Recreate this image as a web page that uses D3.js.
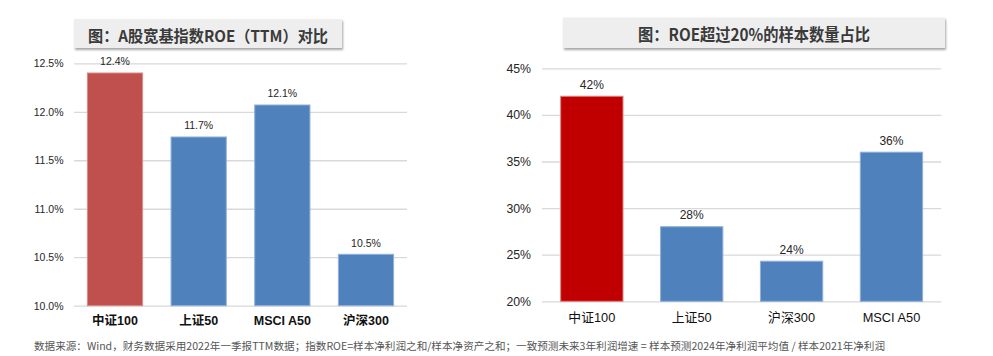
<!DOCTYPE html>
<html><head><meta charset="utf-8">
<script src="https://cdn.jsdelivr.net/npm/d3@7"></script>
<style>
html,body{margin:0;padding:0;background:#fff;}
svg{display:block;}
</style></head>
<body>
<svg id="c" width="993" height="356"></svg>
<script>
// ---- data ----
const leftTitle = "图：A股宽基指数ROE（TTM）对比";
const leftCats = ["中证100", "上证50", "MSCI A50", "沪深300"];
const leftVals = [12.40, 11.74, 12.07, 10.53];
const leftLabels = ["12.4%", "11.7%", "12.1%", "10.5%"];
const leftTicks = [10.0, 10.5, 11.0, 11.5, 12.0, 12.5];

const rightTitle = "图：ROE超过20%的样本数量占比";
const rightCats = ["中证100", "上证50", "沪深300", "MSCI A50"];
const rightVals = [42, 28, 24.3, 36];
const rightLabels = ["42%", "28%", "24%", "36%"];
const rightTicks = [20, 25, 30, 35, 40, 45];

const footnote = "数据来源：Wind，财务数据采用2022年一季报TTM数据；指数ROE=样本净利润之和/样本净资产之和；一致预测未来3年利润增速 = 样本预测2024年净利润平均值 / 样本2021年净利润";

// ---- drawing ----
const svg = d3.select("#c");
const defs = svg.append("defs");
const f = defs.append("filter").attr("id","sh").attr("x","-5%").attr("y","-20%").attr("width","115%").attr("height","160%");
f.append("feDropShadow").attr("dx",1).attr("dy",2).attr("stdDeviation",1.3).attr("flood-color","#000").attr("flood-opacity",0.35);

const CJK = "'Noto Sans CJK SC', 'Noto Sans', sans-serif";
const LAT = "'Liberation Sans', Arial, sans-serif";

function titleBox(x0, y0, w, h, text, fs, tl) {
  svg.append("rect").attr("x",x0).attr("y",y0).attr("width",w).attr("height",h)
    .attr("fill","#eeeeee").attr("filter","url(#sh)");
  svg.append("text").attr("x",x0+w/2).attr("y",y0+h/2+1)
    .attr("text-anchor","middle").attr("dominant-baseline","central")
    .attr("font-family",CJK).attr("font-weight","bold").attr("font-size",fs)
    .attr("fill","#3a3a3a").attr("textLength",tl).attr("lengthAdjust","spacingAndGlyphs")
    .text(text);
}

function chart(opt) {
  const x = d3.scaleBand().domain(opt.cats).range(opt.xr)
    .paddingInner(opt.pi).paddingOuter(opt.po);
  const y = d3.scaleLinear().domain(opt.dom).range(opt.yr);
  const g = svg.append("g");
  const ax = d3.axisLeft(y).tickValues(opt.ticks).tickFormat(opt.fmt)
    .tickSize(-(opt.xr[1]-opt.xr[0])).tickPadding(opt.tp);
  const ag = g.append("g").attr("transform",`translate(${opt.xr[0]},0)`).call(ax);
  ag.select(".domain").remove();
  ag.selectAll(".tick line").attr("stroke","#d9d9d9").attr("stroke-width",1.3);
  ag.selectAll(".tick text").attr("font-family",LAT).attr("font-size",opt.tfs).attr("fill","#262626");

  g.selectAll("rect.bar").data(opt.vals).join("rect").attr("class","bar")
    .attr("x",(d,i)=>x(opt.cats[i])).attr("width",x.bandwidth())
    .attr("y",d=>y(d)).attr("height",d=>y(opt.dom[0])-y(d))
    .attr("fill",(d,i)=>opt.colors[i])
    .attr("stroke",(d,i)=>opt.strokes[i]).attr("stroke-width",1);

  g.selectAll("text.val").data(opt.vals).join("text").attr("class","val")
    .attr("x",(d,i)=>x(opt.cats[i])+x.bandwidth()/2).attr("y",d=>y(d)-7.5)
    .attr("text-anchor","middle").attr("font-family",LAT).attr("font-size",opt.vfs)
    .attr("fill","#262626").text((d,i)=>opt.labels[i]);

  g.selectAll("text.cat").data(opt.cats).join("text").attr("class","cat")
    .attr("x",d=>x(d)+x.bandwidth()/2).attr("y",opt.cy)
    .attr("text-anchor","middle").attr("dominant-baseline","central")
    .attr("font-family",opt.cfont).attr("font-weight",opt.cw).attr("font-size",opt.cfs)
    .attr("fill","#111").text(d=>d);
}

titleBox(74, 19, 268, 29, leftTitle, 16, 240);
titleBox(563, 17.5, 382, 30.5, rightTitle, 16.5, 232);

chart({cats:leftCats, vals:leftVals, labels:leftLabels, ticks:leftTicks,
  xr:[74,407], pi:0.34, po:0.16, dom:[10,12.5], yr:[305.7,63.3],
  fmt:d=>d3.format(".1f")(d)+"%", tp:10.5, tfs:10.5, vfs:10.5,
  colors:["#C0504D","#4F81BD","#4F81BD","#4F81BD"],
  strokes:["#d98b89","#8eb0da","#8eb0da","#8eb0da"],
  cy:321, cfont:"'Liberation Sans', 'Noto Sans CJK SC', sans-serif", cw:"bold", cfs:12.5});

chart({cats:rightCats, vals:rightVals, labels:rightLabels, ticks:rightTicks,
  xr:[542,941.3], pi:0.376, po:0.187, dom:[20,45], yr:[301.3,68.3],
  fmt:d=>d+"%", tp:11, tfs:12.3, vfs:12,
  colors:["#C00000","#4F81BD","#4F81BD","#4F81BD"],
  strokes:["#e08080","#8eb0da","#8eb0da","#8eb0da"],
  cy:317, cfont:"'Liberation Sans', 'Noto Sans CJK SC', sans-serif", cw:"normal", cfs:12.8});

svg.append("text").attr("x",34).attr("y",345.5).attr("dominant-baseline","central")
  .attr("font-family",CJK).attr("font-size",10.5).attr("fill","#555")
  .attr("textLength",851).attr("lengthAdjust","spacingAndGlyphs").text(footnote);
</script>
</body></html>
